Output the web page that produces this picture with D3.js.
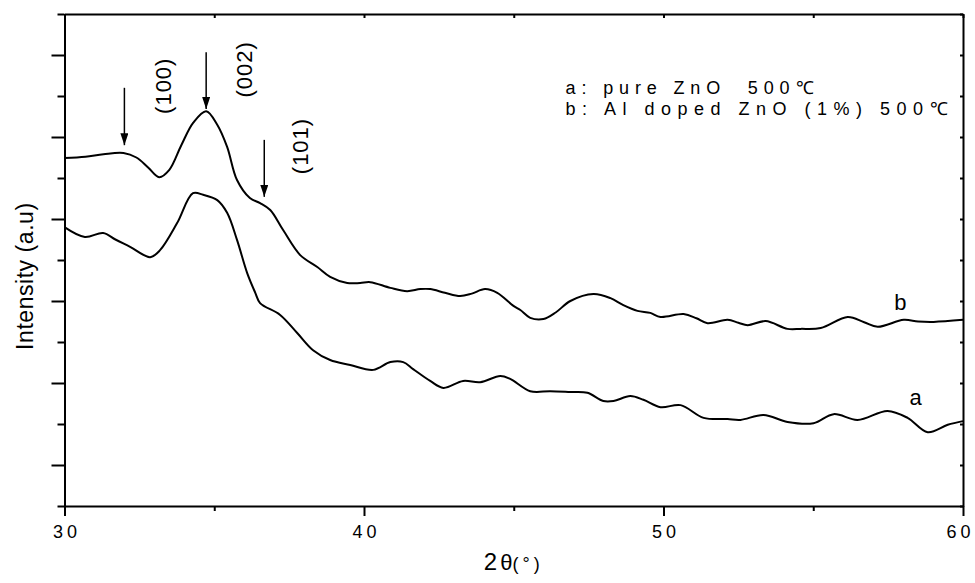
<!DOCTYPE html>
<html>
<head>
<meta charset="utf-8">
<script src="https://cdn.jsdelivr.net/npm/d3@7"></script>
<style>
  body { margin: 0; background: #fff; }
  svg { font-family: "Liberation Sans", Arial, sans-serif; }
</style>
</head>
<body>
<svg id="chart" width="975" height="583"></svg>
<script>
// 2theta values and intensities (arbitrary units)
var thetaB = [30.0, 30.7, 31.3, 31.97, 32.4, 32.8, 33.16, 33.5, 33.9, 34.3, 34.73, 35.1, 35.43, 35.76, 36.19, 36.53, 36.87, 37.3, 37.87, 38.44, 38.87, 39.44, 39.87, 40.21, 40.88, 41.44, 41.88, 42.21, 42.7, 43.21, 43.6, 44.04, 44.45, 44.99, 45.22, 45.55, 45.99, 46.4, 46.89, 47.66, 48.23, 48.66, 49.13, 49.56, 49.9, 50.67, 51.1, 51.47, 52.14, 52.5, 52.81, 53.41, 54.14, 54.58, 55.25, 56.15, 56.7, 57.15, 58.02, 58.5, 59.02, 60.0];
var intB = [8.49, 8.52, 8.58, 8.61, 8.5, 8.25, 8.02, 8.2, 8.8, 9.35, 9.63, 9.3, 8.76, 7.95, 7.51, 7.39, 7.22, 6.73, 6.12, 5.83, 5.59, 5.44, 5.44, 5.46, 5.32, 5.24, 5.29, 5.29, 5.2, 5.12, 5.18, 5.29, 5.2, 4.88, 4.78, 4.59, 4.56, 4.72, 5.0, 5.17, 5.07, 4.9, 4.76, 4.71, 4.61, 4.68, 4.58, 4.46, 4.54, 4.47, 4.41, 4.51, 4.32, 4.32, 4.34, 4.61, 4.48, 4.37, 4.54, 4.5, 4.49, 4.54];

var thetaA = [30.0, 30.68, 31.29, 31.7, 32.19, 32.86, 33.19, 33.76, 34.29, 34.63, 35.1, 35.43, 35.76, 36.1, 36.37, 36.53, 37.2, 37.77, 38.3, 38.87, 39.54, 40.31, 40.88, 41.31, 41.64, 42.21, 42.65, 43.31, 43.88, 44.55, 44.88, 45.55, 46.22, 46.89, 47.46, 47.99, 48.33, 48.89, 49.33, 49.9, 50.57, 51.34, 52.14, 52.57, 53.34, 54.14, 55.01, 55.68, 56.48, 57.48, 58.15, 58.82, 59.49, 60.0];
var intA = [6.8, 6.56, 6.66, 6.5, 6.32, 6.07, 6.24, 6.9, 7.63, 7.59, 7.46, 7.15, 6.49, 5.68, 5.2, 4.95, 4.66, 4.22, 3.8, 3.56, 3.44, 3.32, 3.51, 3.51, 3.34, 3.05, 2.88, 3.05, 3.02, 3.17, 3.1, 2.8, 2.8, 2.78, 2.76, 2.56, 2.56, 2.68, 2.59, 2.41, 2.46, 2.15, 2.12, 2.1, 2.22, 2.05, 2.02, 2.24, 2.1, 2.32, 2.15, 1.8, 1.98, 2.07];

// marked peaks
var peakNames = ["(100)", "(002)", "(101)"];
var peakTheta = [32.0, 34.73, 36.67];

var legendLines = ["a: pure ZnO  500\u2103", "b: Al doped ZnO (1%) 500\u2103"];
var xMajorTicks = [30, 40, 50, 60];
var xMinorTicks = [35, 45, 55];

var svg = d3.select("#chart");
var margin = { top: 14, right: 12, bottom: 77, left: 64.5 };
var width = +svg.attr("width") - margin.left - margin.right;
var height = +svg.attr("height") - margin.top - margin.bottom;

var x = d3.scaleLinear().domain([30, 60]).range([0, width]);
var y = d3.scaleLinear().domain([0, 12]).range([height, 0]);

var g = svg.append("g")
  .attr("transform", "translate(" + margin.left + "," + margin.top + ")");

var yAll = d3.range(0, 13);
var yMajor = yAll.filter(d => d % 2 === 1);
var yMinor = yAll.filter(d => d % 2 === 0);

function styleAxis(sel) {
  sel.select(".domain").attr("stroke", "#000").attr("stroke-width", 2);
  sel.selectAll(".tick line").attr("stroke", "#000").attr("stroke-width", 2);
}

// bottom axis
g.append("g")
  .attr("transform", `translate(0, ${height})`)
  .call(d3.axisBottom(x).tickValues(xMajorTicks).tickSize(10).tickSizeOuter(0).tickPadding(9)
    .tickFormat(d3.format("d")))
  .call(styleAxis)
  .call(a => a.selectAll("text")
    .attr("fill", "#000")
    .style("font-size", "18px")
    .style("letter-spacing", "4px")
    .attr("dx", d => d === 60 ? "-3px" : "2px"));
g.append("g")
  .attr("transform", `translate(0, ${height})`)
  .call(d3.axisBottom(x).tickValues(xMinorTicks).tickSize(5).tickSizeOuter(0).tickFormat(""))
  .call(styleAxis)
  .call(a => a.select(".domain").remove());

// top axis (ticks inside)
g.append("g")
  .call(d3.axisTop(x).tickValues(xMajorTicks.concat(xMinorTicks)).tickSize(-4).tickSizeOuter(0).tickFormat(""))
  .call(styleAxis);

// left axis
g.append("g")
  .call(d3.axisLeft(y).tickValues(yMajor).tickSize(13).tickSizeOuter(0).tickFormat(""))
  .call(styleAxis);
g.append("g")
  .call(d3.axisLeft(y).tickValues(yMinor).tickSize(7).tickSizeOuter(0).tickFormat(""))
  .call(styleAxis)
  .call(a => a.select(".domain").remove());

// right axis (ticks inside)
g.append("g")
  .attr("transform", `translate(${width}, 0)`)
  .call(d3.axisRight(y).tickValues(yAll).tickSize(-3).tickSizeOuter(0).tickFormat(""))
  .call(styleAxis);

// curves
var line = d3.line()
  .x(d => x(d[0]))
  .y(d => y(d[1]))
  .curve(d3.curveCatmullRom);

var seriesA = thetaA.map((t, i) => [t, intA[i]]);
var seriesB = thetaB.map((t, i) => [t, intB[i]]);

g.selectAll(".curve")
  .data([seriesA, seriesB])
  .enter()
  .append("path")
  .attr("class", "curve")
  .attr("d", line)
  .attr("fill", "none")
  .attr("stroke", "#000")
  .attr("stroke-width", 2);

// curve labels
g.append("text").attr("x", x(58.42)).attr("y", y(2.46)).text("a")
  .style("font-size", "22px").attr("text-anchor", "middle");
g.append("text").attr("x", x(57.91)).attr("y", y(4.78)).text("b")
  .style("font-size", "22px").attr("text-anchor", "middle");

// peak arrows
svg.append("defs").append("marker")
  .attr("id", "head")
  .attr("viewBox", "0 0 12 8")
  .attr("refX", 12).attr("refY", 4)
  .attr("markerWidth", 12).attr("markerHeight", 8)
  .attr("markerUnits", "userSpaceOnUse")
  .attr("orient", "auto")
  .append("path")
  .attr("d", "M0,0L12,4L0,8Z")
  .attr("fill", "#000");

var arrowTop = [10.2, 11.07, 8.93];
var arrowBottom = [8.8, 9.68, 7.54];
g.selectAll(".arrow")
  .data(peakTheta)
  .enter()
  .append("line")
  .attr("class", "arrow")
  .attr("x1", d => x(d)).attr("x2", d => x(d))
  .attr("y1", (d, i) => y(arrowTop[i]))
  .attr("y2", (d, i) => y(arrowBottom[i]))
  .attr("stroke", "#000")
  .attr("stroke-width", 1.5)
  .attr("marker-end", "url(#head)");

var labelTheta = [33.3, 36.0, 37.88];
var labelY = [10.25, 10.65, 8.78];
g.selectAll(".peak")
  .data(peakNames)
  .enter()
  .append("text")
  .attr("class", "peak")
  .attr("transform", (d, i) => `translate(${x(labelTheta[i])},${y(labelY[i])}) rotate(-90)`)
  .attr("text-anchor", "middle")
  .attr("dy", "0.35em")
  .style("font-size", "22px")
  .style("letter-spacing", "1px")
  .text(d => d);

// legend
var legendWidths = [248, 382];
g.selectAll(".legend")
  .data(legendLines)
  .enter()
  .append("text")
  .attr("class", "legend")
  .attr("x", 501)
  .attr("y", (d, i) => 80 + i * 21)
  .attr("textLength", (d, i) => legendWidths[i])
  .attr("lengthAdjust", "spacing")
  .style("font-size", "18px")
  .style("white-space", "pre")
  .text(d => d);

// axis titles
svg.append("text")
  .attr("transform", "translate(33," + (margin.top + y(5.6)) + ") rotate(-90)")
  .attr("text-anchor", "middle")
  .attr("textLength", 147)
  .attr("lengthAdjust", "spacing")
  .style("font-size", "23px")
  .text("Intensity (a.u)");

var xt = svg.append("text")
  .attr("x", margin.left + x(45))
  .attr("y", 570)
  .attr("text-anchor", "middle");
xt.append("tspan").style("font-size", "24px").text("2");
xt.append("tspan").style("font-size", "22px").attr("dx", 3).text("\u03b8");
xt.append("tspan").style("font-size", "18px").style("letter-spacing", "4px").text("(\u00b0)");
</script>
</body>
</html>
